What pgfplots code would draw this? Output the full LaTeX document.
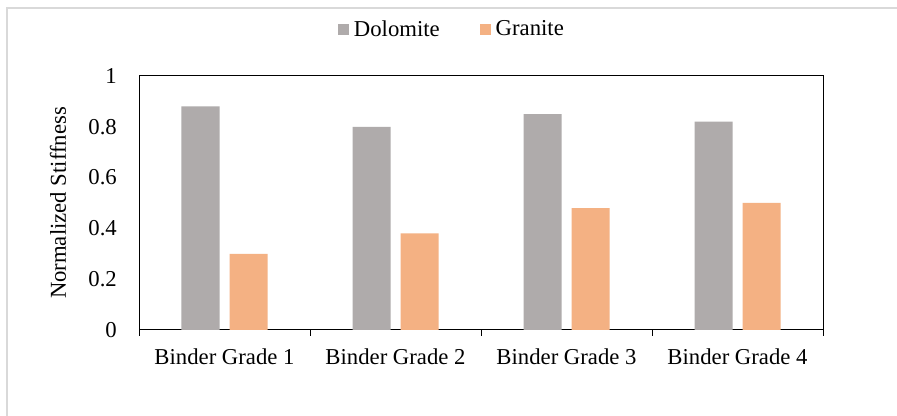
\documentclass[border=0pt]{standalone}
\usepackage{pgfplots}
\pgfplotsset{compat=1.18}
\usepackage{fontspec}
\setmainfont{Liberation Serif}
\definecolor{dolo}{HTML}{AFABAB}
\definecolor{gran}{HTML}{F4B183}
\definecolor{frame}{HTML}{D9D9D9}
\newcommand{\chartfont}{\fontsize{22.8}{25}\selectfont}
\begin{document}
\begin{tikzpicture}
\useasboundingbox (0,0) rectangle (897bp,416bp);
\fill[white] (0,0) rectangle (897bp,416bp);
\draw[frame, line width=2bp] (7bp,0) -- (7bp,408bp) -- (897bp,408bp);
\begin{axis}[
  at={(139bp,86bp)}, anchor=south west,
  scale only axis, width=684bp, height=254bp,
  font=\chartfont,
  /pgf/number format/assume math mode=true,
  ybar=10bp, bar width=38bp,
  xmin=-0.5, xmax=3.5, ymin=0, ymax=1,
  xtick={0,1,2,3},
  xticklabels={Binder Grade 1,Binder Grade 2,Binder Grade 3,Binder Grade 4},
  extra x ticks={-0.5,0.5,1.5,2.5,3.5},
  extra x tick labels={},
  extra x tick style={major tick length=6bp, tick align=outside},
  ytick={0,0.2,0.4,0.6,0.8,1},
  yticklabels={0,0.2,0.4,0.6,0.8,1},
  major tick length=0pt,
  xtick pos=bottom, ytick pos=left,
  axis line style={line width=1bp, black},
  every tick/.style={black, line width=1bp},
  xticklabel style={font=\chartfont, anchor=north, inner sep=0pt, yshift=-19bp},
  yticklabel style={font=\chartfont, anchor=east, inner sep=0pt, xshift=-22bp},
  ylabel={Normalized Stiffness},
  every axis y label/.style={at={(axis description cs:-0.1184,0.5)}, rotate=90, anchor=center, font=\chartfont},
  legend columns=2,
  legend style={at={(axis description cs:0.456,1.185)}, anchor=center, draw=none, fill=none,
    font=\chartfont, inner sep=0pt,
    nodes={inner sep=0pt},
    /tikz/every odd column/.style={column sep=5bp},
    /tikz/every even column/.style={column sep=40bp}},
  legend cell align=left,
  legend image code/.code={\fill[#1] (0bp,-5.5bp) rectangle (11bp,5.5bp);},
]
\addplot[fill=dolo, draw=none] coordinates {(0,0.88) (1,0.80) (2,0.85) (3,0.82)};
\addplot[fill=gran, draw=none] coordinates {(0,0.30) (1,0.38) (2,0.48) (3,0.50)};
\legend{Dolomite,Granite}
\end{axis}
\end{tikzpicture}
\end{document}
